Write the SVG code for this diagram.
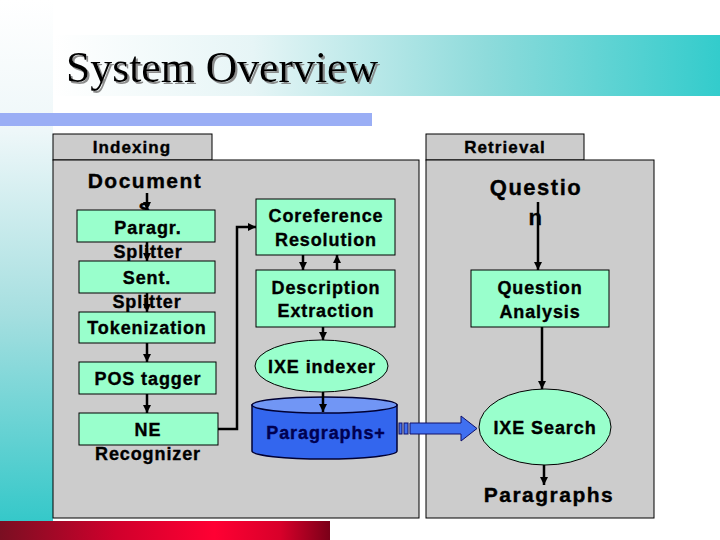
<svg xmlns="http://www.w3.org/2000/svg" width="720" height="540" viewBox="0 0 720 540">
  <defs>
    <linearGradient id="gStrip" x1="0" y1="0" x2="0" y2="1">
      <stop offset="0" stop-color="#ffffff"/>
      <stop offset="0.25" stop-color="#eef7f9"/>
      <stop offset="0.6" stop-color="#a6dfe0"/>
      <stop offset="1" stop-color="#35c8c9"/>
    </linearGradient>
    <linearGradient id="gTitle" x1="0" y1="0" x2="1" y2="0">
      <stop offset="0" stop-color="#ffffff"/>
      <stop offset="0.3" stop-color="#e6f5f6"/>
      <stop offset="0.65" stop-color="#8edbdb"/>
      <stop offset="1" stop-color="#33cccc"/>
    </linearGradient>
    <linearGradient id="gRed" x1="0" y1="0" x2="1" y2="0">
      <stop offset="0" stop-color="#7a0f22"/>
      <stop offset="0.35" stop-color="#d0002c"/>
      <stop offset="0.65" stop-color="#ff0033"/>
      <stop offset="0.85" stop-color="#d8002a"/>
      <stop offset="1" stop-color="#7a0018"/>
    </linearGradient>
    <filter id="shadow" x="-5%" y="-20%" width="110%" height="140%">
      <feDropShadow dx="2" dy="2" stdDeviation="0.6" flood-color="#808080" flood-opacity="0.9"/>
    </filter>
    <marker id="ah" markerUnits="userSpaceOnUse" markerWidth="10" markerHeight="10" refX="8" refY="4" orient="auto">
      <path d="M0,0 L8,4 L0,8 z" fill="#000"/>
    </marker>
  </defs>
  <style>
    .panel { fill: #cccccc; stroke: #000; stroke-width: 1; }
    .box { fill: #99ffcc; stroke: #000; stroke-width: 1; }
    .t { font-family: "Liberation Sans", Arial, sans-serif; font-weight: bold; fill: #000; stroke: #000; stroke-width: 0.35; text-anchor: middle; }
    .s18 { font-size: 18px; letter-spacing: 0.9px; }
    .s17 { font-size: 17px; letter-spacing: 1.1px; }
    .s21 { font-size: 21px; letter-spacing: 1.5px; }
    .conn { fill: none; stroke: #000; stroke-width: 2.5; }
  </style>

  <!-- background -->
  <rect x="0" y="0" width="720" height="540" fill="#ffffff"/>
  <rect x="0" y="0" width="53" height="522" fill="url(#gStrip)"/>
  <rect x="53" y="35" width="667" height="61" fill="url(#gTitle)"/>
  <text x="66" y="82" font-family="'Liberation Serif', 'Times New Roman', serif" font-size="44" fill="#000" textLength="312" lengthAdjust="spacingAndGlyphs" filter="url(#shadow)">System Overview</text>
  <rect x="0" y="113" width="372" height="13" fill="#9aaef5"/>
  <rect x="0" y="521" width="330" height="19" fill="url(#gRed)"/>

  <!-- panels -->
  <g id="indexing-panel">
    <rect class="panel" x="53" y="134" width="159" height="26"/>
    <rect class="panel" x="53" y="160" width="366" height="358"/>
    <text class="t s17" x="132" y="153">Indexing</text>
  </g>
  <g id="retrieval-panel">
    <rect class="panel" x="426" y="134" width="158" height="26"/>
    <rect class="panel" x="426" y="160" width="228" height="358"/>
    <text class="t s17" x="505" y="153">Retrieval</text>
  </g>

  <!-- nodes -->
  <g id="documents">
    <text class="t s21" x="145" y="188">Document</text>
    <text class="t s21" x="145" y="214">s</text>
  </g>
  <g id="paragr-splitter">
    <rect class="box" x="77" y="210" width="138" height="32"/>
    <text class="t s18" x="148" y="234">Paragr.</text>
    <text class="t s18" x="148" y="258">Splitter</text>
  </g>
  <g id="sent-splitter">
    <rect class="box" x="79" y="261" width="136" height="32"/>
    <text class="t s18" x="147" y="284">Sent.</text>
    <text class="t s18" x="147" y="308">Splitter</text>
  </g>
  <g id="tokenization">
    <rect class="box" x="79" y="312" width="136" height="31"/>
    <text class="t s18" x="147" y="334">Tokenization</text>
  </g>
  <g id="pos-tagger">
    <rect class="box" x="79" y="362" width="137" height="32"/>
    <text class="t s18" x="148" y="385">POS tagger</text>
  </g>
  <g id="ne-recognizer">
    <rect class="box" x="79" y="413" width="139" height="32"/>
    <text class="t s18" x="148" y="436">NE</text>
    <text class="t s18" x="148" y="460">Recognizer</text>
  </g>
  <g id="coreference">
    <rect class="box" x="256" y="199" width="139" height="56"/>
    <text class="t s18" x="326" y="222">Coreference</text>
    <text class="t s18" x="326" y="246">Resolution</text>
  </g>
  <g id="description">
    <rect class="box" x="256" y="270" width="139" height="57"/>
    <text class="t s18" x="326" y="294">Description</text>
    <text class="t s18" x="326" y="317">Extraction</text>
  </g>
  <g id="ixe-indexer">
    <ellipse class="box" cx="321.5" cy="366" rx="66.5" ry="26"/>
    <text class="t s18" x="322" y="373">IXE indexer</text>
  </g>
  <g id="paragraphs-db">
    <path d="M252,405 V451 A72.5,8 0 0 0 397,451 V405 Z" fill="#3366ee" stroke="#000033" stroke-width="1.5"/>
    <ellipse cx="324.5" cy="405" rx="72.5" ry="8" fill="#7196f5" stroke="#000033" stroke-width="1.5"/>
    <text class="t s18" x="326" y="439" style="fill:#000050;stroke:#000050">Paragraphs+</text>
  </g>
  <g id="question">
    <text class="t s21" x="536" y="195" style="font-size:22px">Questio</text>
    <text class="t s21" x="536" y="225" style="font-size:22px">n</text>
  </g>
  <g id="question-analysis">
    <rect class="box" x="471" y="270" width="138" height="57"/>
    <text class="t s18" x="540" y="294">Question</text>
    <text class="t s18" x="540" y="318">Analysis</text>
  </g>
  <g id="ixe-search">
    <ellipse class="box" cx="545" cy="427" rx="66" ry="38"/>
    <text class="t s18" x="545" y="434">IXE Search</text>
  </g>
  <g id="paragraphs-out">
    <text class="t s21" x="549" y="502">Paragraphs</text>
  </g>

  <!-- connectors -->
  <g id="connectors">
    <path class="conn" d="M147,193 V210" marker-end="url(#ah)"/>
    <path class="conn" d="M147,242 V261" marker-end="url(#ah)"/>
    <path class="conn" d="M147,293 V312" marker-end="url(#ah)"/>
    <path class="conn" d="M147,343 V362" marker-end="url(#ah)"/>
    <path class="conn" d="M147,394 V413" marker-end="url(#ah)"/>
    <path class="conn" d="M218,429 H237 V227 H256" stroke-width="3" marker-end="url(#ah)"/>
    <path class="conn" d="M303,255 V270" marker-end="url(#ah)"/>
    <path class="conn" d="M337,270 V255" marker-end="url(#ah)"/>
    <path class="conn" d="M323,327 V340" marker-end="url(#ah)"/>
    <path class="conn" d="M323,392 V412" marker-end="url(#ah)"/>
    <path class="conn" d="M538,202 V270" stroke-width="3" marker-end="url(#ah)"/>
    <path class="conn" d="M542,327 V389" stroke-width="3" marker-end="url(#ah)"/>
    <path class="conn" d="M544,465 V485" stroke-width="3" marker-end="url(#ah)"/>
    <g id="blue-arrow" fill="#4070f0" stroke="#10106a" stroke-width="1">
      <rect x="399" y="423" width="3" height="11"/>
      <rect x="404" y="423" width="4" height="11"/>
      <path d="M410,423 H461 V416 L477,428.5 L461,441 V434 H410 Z"/>
    </g>
  </g>
</svg>
